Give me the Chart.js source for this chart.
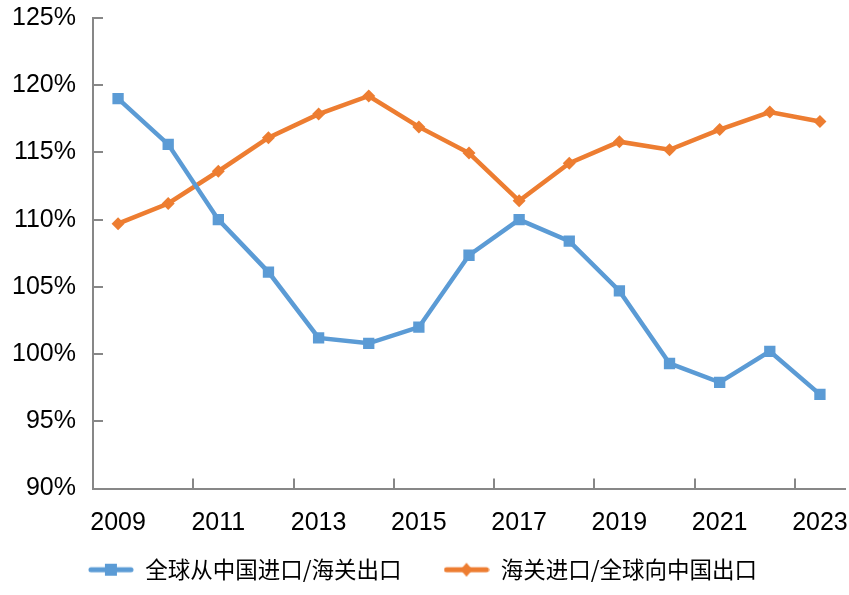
<!DOCTYPE html>
<html>
<head>
<meta charset="utf-8">
<script src="https://cdn.jsdelivr.net/npm/chart.js@4.4.1/dist/chart.umd.min.js"></script>
<style>
  html, body { margin: 0; padding: 0; background: #fff; }
  #myChart { display: block; }
</style>
</head>
<body>
<canvas id="myChart" width="849" height="595"></canvas>
<script>
// years on the x axis
var years = ['2009','2010','2011','2012','2013','2014','2015','2016','2017','2018','2019','2020','2021','2022','2023'];

// ratios in percent
var importFromChina = [119.0, 115.6, 110.0, 106.1, 101.2, 100.8, 102.0, 107.35, 110.0, 108.4, 104.7, 99.3, 97.9, 100.2, 97.0];
var customsImport   = [109.7, 111.2, 113.6, 116.1, 117.85, 119.2, 116.9, 114.95, 111.4, 114.2, 115.8, 115.2, 116.7, 118.0, 117.3];

var seriesNames = ['全球从中国进口/海关出口', '海关进口/全球向中国出口'];
var lineColors = ['#5B9BD5', '#ED7D31'];

// y axis range / ticks
var yMin = 90, yMax = 125, yStep = 5;

var axisColor = '#878787';
var tickFont = { family: 'Liberation Sans, Arial, sans-serif', size: 25 };

// little line+marker pictures for the legend
function legendIcon(color, shape) {
  var c = document.createElement('canvas');
  c.width = 46; c.height = 16;
  var g = c.getContext('2d');
  g.strokeStyle = color;
  g.lineWidth = 5;
  g.lineCap = 'round';
  g.beginPath(); g.moveTo(3, 8); g.lineTo(43, 8); g.stroke();
  g.fillStyle = color;
  if (shape == 'square') {
    g.fillRect(17, 2, 12, 12);
  } else {
    g.beginPath();
    g.moveTo(23, 1); g.lineTo(29, 8); g.lineTo(23, 15); g.lineTo(17, 8);
    g.closePath(); g.fill();
  }
  return c;
}
var icons = [legendIcon(lineColors[0], 'square'), legendIcon(lineColors[1], 'diamond')];

// short inward tick marks like the original
var tickMarks = {
  id: 'tickMarks',
  afterDraw: function(chart) {
    var ctx = chart.ctx, xs = chart.scales.x, ys = chart.scales.y;
    ctx.save();
    ctx.strokeStyle = axisColor;
    ctx.lineWidth = 2;
    ctx.beginPath();
    ys.ticks.forEach(function(t) {
      var y = Math.round(ys.getPixelForValue(t.value));
      ctx.moveTo(xs.left, y); ctx.lineTo(xs.left + 10, y);
    });
    for (var i = 2; i < years.length; i += 2) {
      var x = Math.round((xs.getPixelForValue(i - 1) + xs.getPixelForValue(i)) / 2);
      ctx.moveTo(x, ys.bottom); ctx.lineTo(x, ys.bottom - 10);
    }
    ctx.stroke();
    ctx.restore();
  }
};

const ctx = document.getElementById('myChart');

new Chart(ctx, {
  type: 'line',
  data: {
    labels: years,
    datasets: [{
      label: seriesNames[0],
      data: importFromChina,
      borderColor: lineColors[0],
      backgroundColor: lineColors[0],
      borderWidth: 4.5,
      pointStyle: 'rect',
      pointRadius: 8,
      pointHoverRadius: 8,
      pointBorderWidth: 0,
      tension: 0
    }, {
      label: seriesNames[1],
      data: customsImport,
      borderColor: lineColors[1],
      backgroundColor: lineColors[1],
      borderWidth: 4.5,
      pointStyle: 'rectRot',
      pointRadius: 6.5,
      pointHoverRadius: 6.5,
      pointBorderWidth: 0,
      tension: 0
    }]
  },
  options: {
    responsive: false,
    animation: false,
    layout: { autoPadding: false, padding: { left: 0, right: 4, top: 18, bottom: 4 } },
    plugins: {
      tooltip: { enabled: false },
      legend: {
        position: 'bottom',
        labels: {
          usePointStyle: true,
          pointStyleWidth: 46,
          padding: 42,
          color: '#000',
          font: { family: 'Noto Sans CJK SC', size: 22.5 },
          generateLabels: function(chart) {
            return chart.data.datasets.map(function(ds, i) {
              return {
                text: ds.label,
                pointStyle: icons[i],
                fillStyle: ds.borderColor,
                strokeStyle: ds.borderColor,
                lineWidth: 0,
                datasetIndex: i,
                hidden: false
              };
            });
          }
        }
      }
    },
    scales: {
      x: {
        offset: true,
        grid: { display: false, offset: true },
        border: { color: axisColor, width: 2 },
        afterFit: function(s) {
          // squeeze the axis box but let the year labels hang below it
          s.height = s.height - 34;
          s.paddingLeft = 0; s.paddingRight = 0;
          s._computeLabelArea = function() { return undefined; };
        },
        ticks: {
          autoSkip: false,
          maxRotation: 0,
          padding: 12,
          color: '#000',
          font: tickFont,
          callback: function(v, i) { return i % 2 == 0 ? years[i] : ''; }
        }
      },
      y: {
        min: yMin,
        max: yMax,
        afterFit: function(s) {
          s.width = 93;
          s.paddingTop = 0; s.paddingBottom = 0;
        },
        grid: { drawOnChartArea: false, drawTicks: false },
        border: { color: axisColor, width: 2 },
        ticks: {
          stepSize: yStep,
          padding: 17,
          color: '#000',
          font: tickFont,
          callback: function(v) { return v + '%'; }
        }
      }
    }
  },
  plugins: [tickMarks]
});
</script>
</body>
</html>
